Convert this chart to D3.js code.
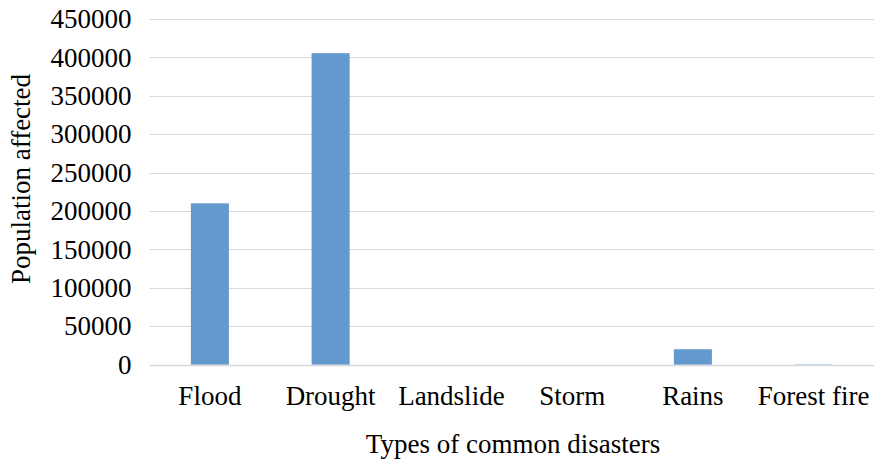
<!DOCTYPE html>
<html>
<head>
<meta charset="utf-8">
<script src="https://cdn.jsdelivr.net/npm/d3@7"></script>
<style>
  html, body { margin: 0; padding: 0; background: #fff; }
  svg { display: block; }
</style>
</head>
<body>
<svg id="chart" width="874" height="459"></svg>
<script>
// Population affected by each type of disaster
const categories = ["Flood", "Drought", "Landslide", "Storm", "Rains", "Forest fire"];
const affected = [210000, 405500, 0, 0, 20000, 400];
const yTicks = [0, 50000, 100000, 150000, 200000, 250000, 300000, 350000, 400000, 450000];

const FONT = "'Liberation Serif'";
const FS = "27px";

const svg = d3.select("#chart");
const margin = { left: 149.5, right: 0, top: 19, bottom: 94.4 };
const W = 874, H = 459;

const x = d3.scaleBand()
  .domain(categories)
  .range([margin.left, W - margin.right])
  .paddingInner(0.685)
  .paddingOuter(0.3425);

const y = d3.scaleLinear()
  .domain([0, 450000])
  .range([H - margin.bottom, margin.top]);

// horizontal gridlines
svg.append("g")
  .selectAll("line")
  .data(yTicks)
  .join("line")
  .attr("x1", margin.left)
  .attr("x2", W - margin.right)
  .attr("y1", d => Math.round(y(d)) + 0.5)
  .attr("y2", d => Math.round(y(d)) + 0.5)
  .attr("stroke", "#d9d9d9")
  .attr("stroke-width", d => d === 0 ? 1.5 : 1);

// y tick labels
const yAxis = d3.axisLeft(y).tickValues(yTicks).tickSize(0).tickPadding(0).tickFormat(d3.format("d"));
const gy = svg.append("g")
  .attr("transform", "translate(131.5,0)")
  .call(yAxis)
  .attr("font-family", null)
  .attr("font-size", null);
gy.select(".domain").remove();
gy.selectAll("text")
  .style("font-family", FONT)
  .style("font-size", FS)
  .attr("fill", "#000");

// bars
svg.append("g")
  .selectAll("rect")
  .data(categories.map((c, i) => ({ c, v: affected[i] })))
  .join("rect")
  .attr("x", d => x(d.c))
  .attr("width", x.bandwidth())
  .attr("y", d => y(d.v))
  .attr("height", d => y(0) - y(d.v))
  .attr("fill", "#6399cd");

// x category labels
const xAxis = d3.axisBottom(x).tickSize(0).tickPadding(0);
const gx = svg.append("g")
  .attr("transform", `translate(0,${y(0) + 20.8})`)
  .call(xAxis)
  .attr("font-family", null)
  .attr("font-size", null);
gx.select(".domain").remove();
gx.selectAll("text")
  .style("font-family", FONT)
  .style("font-size", FS)
  .attr("fill", "#000");

// axis titles
svg.append("text")
  .attr("x", 513)
  .attr("y", 452.5)
  .attr("text-anchor", "middle")
  .style("font-family", FONT)
  .style("font-size", FS)
  .text("Types of common disasters");

svg.append("text")
  .attr("transform", "translate(29.5,179) rotate(-90)")
  .attr("text-anchor", "middle")
  .style("font-family", FONT)
  .style("font-size", FS)
  .text("Population affected");
</script>
</body>
</html>
